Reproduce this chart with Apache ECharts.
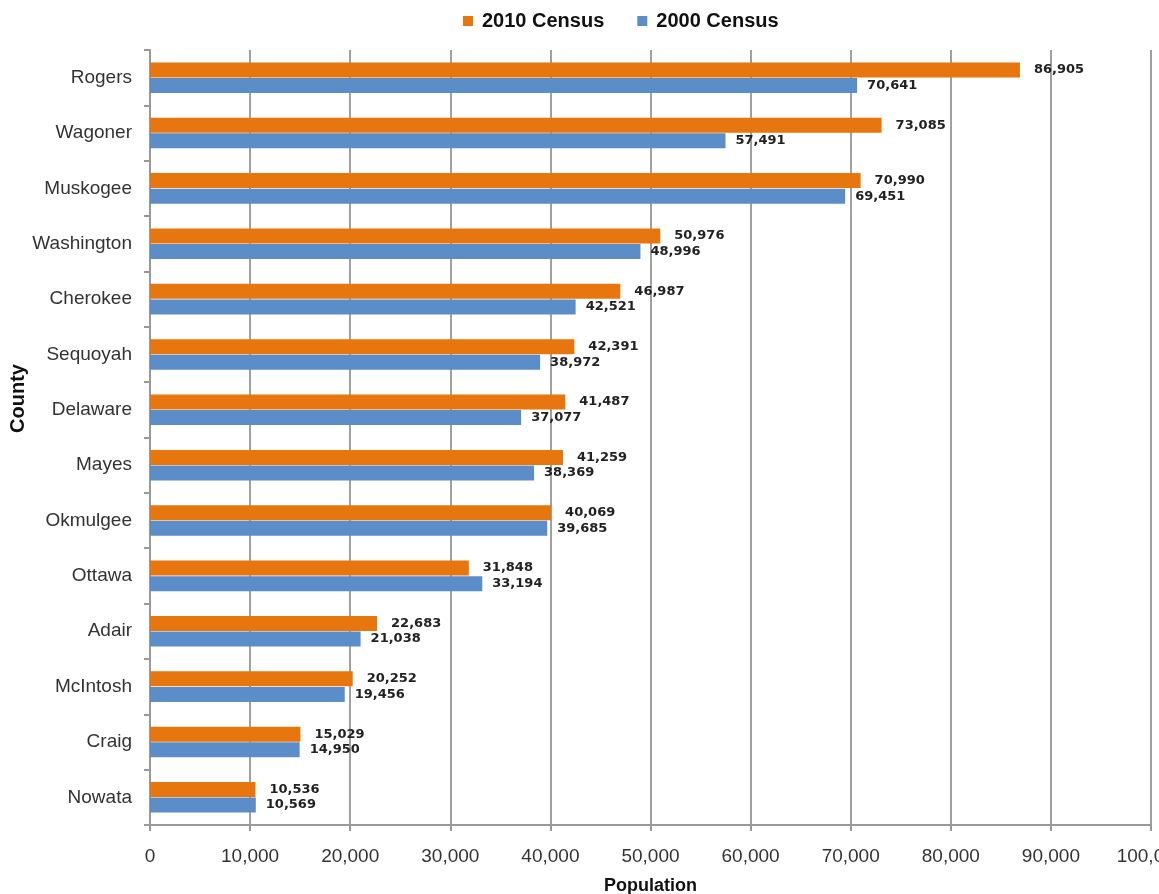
<!DOCTYPE html>
<html><head><meta charset="utf-8">
<script src="https://cdn.jsdelivr.net/npm/echarts@6/dist/echarts.min.js"></script>
<style>html,body{margin:0;padding:0;background:#fff}#c{width:1159px;height:894px}</style>
</head><body><div id="c"></div>
<script>
const counties = ["Rogers","Wagoner","Muskogee","Washington","Cherokee","Sequoyah","Delaware","Mayes","Okmulgee","Ottawa","Adair","McIntosh","Craig","Nowata"];
const census2010 = [86905,73085,70990,50976,46987,42391,41487,41259,40069,31848,22683,20252,15029,10536];
const census2000 = [70641,57491,69451,48996,42521,38972,37077,38369,39685,33194,21038,19456,14950,10569];
const xTicks = {min:0, max:100000, interval:10000};

const font = "'Liberation Sans', Arial, sans-serif";
const chart = echarts.init(document.getElementById('c'));
const lbl = (dx) => ({show:true, position:'right', distance:dx, fontFamily:"'DejaVu Sans', sans-serif", fontWeight:'bold', fontSize:13, color:'#222',
  formatter: p => p.value.toLocaleString('en-US')});
chart.setOption({
  animation:false,
  textStyle:{fontFamily:font},
  legend:{top:6, left:458, itemWidth:10, itemHeight:10, itemGap:33, icon:'rect',
    textStyle:{fontFamily:font, fontWeight:'bold', fontSize:20, color:'#111', padding:[0,0,0,4]},
    data:['2010 Census','2000 Census']},
  grid:{left:150, right:8, top:50, bottom:69, containLabel:false, outerBoundsMode:'none'},
  xAxis:{type:'value', min:xTicks.min, max:xTicks.max, interval:xTicks.interval,
    name:'Population', nameLocation:'middle', nameGap:52, nameMoveOverlap:false,
    nameTextStyle:{fontFamily:font, fontWeight:'bold', fontSize:18, color:'#111'},
    axisLine:{show:true, lineStyle:{color:'#999', width:2}},
    axisTick:{show:true, length:6, lineStyle:{color:'#999', width:2}},
    axisLabel:{fontFamily:font, fontSize:19, color:'#333', margin:22,
      formatter: v => v.toLocaleString('en-US')},
    splitLine:{show:true, lineStyle:{color:'#a0a0a0', width:2}}},
  yAxis:{type:'category', data:counties, inverse:true,
    name:'County', nameLocation:'middle', nameGap:122, nameRotate:90, nameMoveOverlap:false,
    nameTextStyle:{fontFamily:font, fontWeight:'bold', fontSize:20, color:'#111', padding:[0,0,0,78]},
    axisLine:{show:true, lineStyle:{color:'#999', width:2}},
    axisTick:{show:true, length:6, lineStyle:{color:'#999', width:2}},
    axisLabel:{fontFamily:font, fontSize:19, color:'#333', margin:18}},
  series:[
    {name:'2010 Census', type:'bar', data:census2010, barWidth:15, barGap:'4%',
     itemStyle:{color:'#E8760F'}, label:lbl(14)},
    {name:'2000 Census', type:'bar', data:census2000, barWidth:15,
     itemStyle:{color:'#5B8DC8'}, label:lbl(10)}
  ]
});
</script></body></html>
